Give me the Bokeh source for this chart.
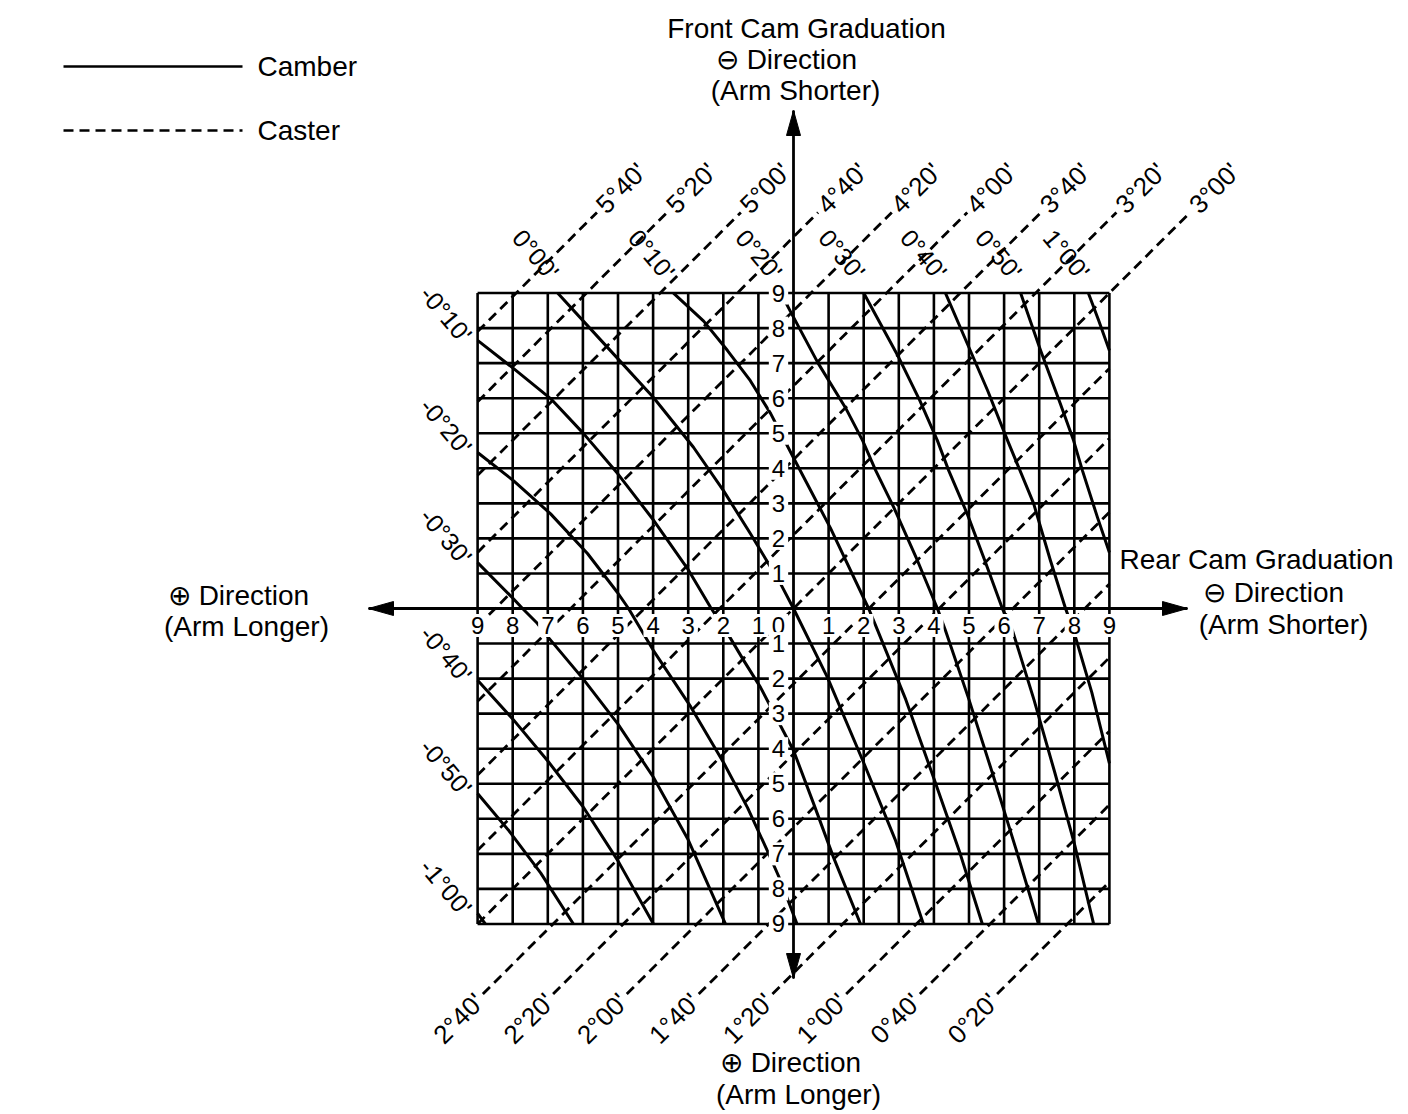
import math
from bokeh.plotting import figure
from bokeh.models import Range1d, Label
from bokeh.embed import file_html
from bokeh.resources import INLINE
from bokeh.core.properties import value

# ---------------- data ----------------
# cam graduations (rear cam on x, front cam on y); left/bottom = "plus" direction
grad_left = [9, 8, 7, 6, 5, 4, 3, 2, 1]
grad_right = [1, 2, 3, 4, 5, 6, 7, 8, 9]
grad_top = [9, 8, 7, 6, 5, 4, 3, 2, 1]
grad_bottom = [1, 2, 3, 4, 5, 6, 7, 8, 9]

# caster iso-lines: y = x + offset (graduation units)
caster_labels = ["5°40'", "5°20'", "5°00'", "4°40'", "4°20'", "4°00'", "3°40'", "3°20'", "3°00'",
                 "2°40'", "2°20'", "2°00'", "1°40'", "1°20'", "1°00'", "0°40'", "0°20'"]
caster_offset = [16.9, 14.9, 12.8, 10.6, 8.5, 6.35, 4.25, 2.1, 0.0,
                 -2.15, -4.15, -6.25, -8.3, -10.4, -12.5, -14.6, -16.8]

# camber iso-curves, traced points (graduation units)
camber_labels = ["-1°00'", "-0°50'", "-0°40'", "-0°30'", "-0°20'", "-0°10'",
                 "0°00'", "0°10'", "0°20'", "0°30'", "0°40'", "0°50'", "1°00'"]
camber_x = [
    [-9.0, -8.78],
    [-9.0, -8.1, -7.2, -6.27],
    [-9.0, -8.0, -7.0, -6.0, -5.0, -3.99],
    [-9.0, -8.0, -7.72, -7.3, -6.98, -6.0, -5.0, -4.0, -3.0, -1.94],
    [-9.0, -7.98, -6.92, -5.87, -5.01, -4.7, -3.99, -2.93, -1.99, -1.31, -0.71, -0.37, 0.1],
    [-9.0, -7.98, -6.92, -5.98, -5.01, -3.98, -3.02, -2.36, -1.88, -1.42, -0.94, 0.0, 0.57, 1.14, 1.91],
    [-6.72, -5.3, -3.99, -2.85, -2.0, -1.23, -0.37, 0.0, 0.97, 2.0, 2.9, 3.7],
    [-3.42, -2.56, -1.88, -1.23, -0.65, 0.0, 1.05, 2.14, 2.4, 3.2, 4.0, 4.75, 5.38],
    [-0.36, -0.1, 0.7, 1.48, 1.97, 2.34, 2.85, 3.53, 4.1, 4.33, 5.0, 5.7, 6.35, 6.98],
    [2.0, 3.0, 3.6, 4.1, 4.42, 4.95, 5.45, 5.95, 6.24, 6.85, 7.45, 8.0, 8.55],
    [4.33, 4.95, 5.53, 6.1, 6.84, 7.32, 7.75, 7.98, 8.5, 9.0],
    [6.47, 7.04, 7.6, 7.98, 8.23, 8.66, 9.0],
    [8.4, 8.7, 9.0],
]
camber_y = [
    [-8.7, -9.0],
    [-5.28, -6.35, -7.55, -9.0],
    [-2.05, -3.15, -4.35, -5.65, -7.2, -9.0],
    [1.31, 0.3, 0.0, -0.42, -0.83, -2.0, -3.3, -4.8, -6.6, -9.0],
    [4.45, 3.65, 2.7, 1.57, 0.45, 0.0, -1.2, -2.8, -4.4, -5.68, -6.99, -7.76, -9.0],
    [7.65, 6.85, 5.99, 4.99, 3.85, 2.51, 1.14, 0.03, -0.71, -1.48, -2.25, -4.05, -5.56, -7.1, -9.0],
    [9.0, 7.45, 6.02, 4.6, 3.37, 2.14, 0.71, 0.0, -1.97, -4.4, -6.6, -9.0],
    [9.0, 8.2, 7.36, 6.5, 5.56, 4.3, 2.3, 0.0, -0.63, -2.6, -4.85, -7.0, -9.0],
    [9.0, 8.5, 7.0, 5.73, 4.79, 3.94, 2.9, 1.37, 0.0, -0.63, -2.6, -4.8, -6.9, -9.0],
    [9.0, 7.16, 5.93, 4.79, 3.94, 2.7, 1.37, 0.0, -0.63, -2.6, -4.7, -6.7, -9.0],
    [9.0, 7.56, 6.22, 4.79, 3.0, 1.37, 0.0, -0.63, -2.4, -4.42],
    [9.0, 7.36, 5.85, 4.79, 3.94, 2.6, 1.6],
    [9.0, 8.2, 7.36],
]

# ---------------- layout helpers (picture pixels -> data units) ----------------
W, H = 1400, 1110
OX, OY, SX, SY = 793.0, 608.0, 35.1, 35.05


def xd(px):
    return (px - OX) / SX


def yd(py):
    return (OY - py) / SY


FONT = "Liberation Sans"
G = max(grad_right)

p = figure(width=W, height=H, x_range=Range1d(xd(0), xd(W)), y_range=Range1d(yd(H), yd(0)),
           output_backend="svg", toolbar_location=None, x_axis_type=None, y_axis_type=None,
           min_border=0, outline_line_color=None)
p.background_fill_color = "white"
p.border_fill_color = "white"

# ---------------- grid ----------------
vx = [-g for g in grad_left] + grad_right
hy = grad_top + [-g for g in grad_bottom]
p.segment(x0=vx, y0=[-G] * len(vx), x1=vx, y1=[G] * len(vx), line_color="black", line_width=2.6)
p.segment(x0=[-G] * len(hy), y0=hy, x1=[G] * len(hy), y1=hy, line_color="black", line_width=2.6)

# ---------------- camber curves ----------------
p.multi_line(xs=camber_x, ys=camber_y, line_color="black", line_width=3.0, line_join="round")

# ---------------- caster lines ----------------
TOP_EXT, BOT_EXT = 11.3, -11.0
cxs, cys = [], []
top_lab = dict(x=[], y=[], t=[])
bot_lab = dict(x=[], y=[], t=[])
for lab, c in zip(caster_labels, caster_offset):
    x_lo = max(-G, -G - c)
    x_hi = min(G, G - c)
    if c >= 0:
        x_hi = TOP_EXT - c
        top_lab["x"].append(x_hi + 0.1)
        top_lab["y"].append(x_hi + c + 0.1)
        top_lab["t"].append(lab)
    else:
        x_lo = BOT_EXT - c
        bot_lab["x"].append(x_lo - 0.1)
        bot_lab["y"].append(x_lo + c - 0.1)
        bot_lab["t"].append(lab)
    cxs.append([x_lo, x_hi])
    cys.append([x_lo + c, x_hi + c])
p.multi_line(xs=cxs, ys=cys, line_color="black", line_width=2.8, line_dash="10 6")

p.text(x=top_lab["x"], y=top_lab["y"], text=top_lab["t"], angle=math.pi / 4,
       text_align="left", text_baseline="middle", text_font=value(FONT), text_font_size="26px",
       text_color="black")
p.text(x=bot_lab["x"], y=bot_lab["y"], text=bot_lab["t"], angle=math.pi / 4,
       text_align="right", text_baseline="middle", text_font=value(FONT), text_font_size="26px",
       text_color="black")

# ---------------- camber labels ----------------
lx, ly, lt = [], [], []
for lab, xs, ys in zip(camber_labels, camber_x, camber_y):
    if lab.startswith("-"):
        lx.append(-G - 0.9)
        ly.append(ys[0] + 0.75)
    else:
        lx.append(xs[0] - 0.62)
        ly.append(G + 1.1)
    lt.append(lab)
p.text(x=lx, y=ly, text=lt, angle=-50 * math.pi / 180, text_align="center", text_baseline="middle",
       text_font=value(FONT), text_font_size="25px", text_color="black")

# ---------------- axes with arrows ----------------
ax_l, ax_r, ax_t, ax_b = xd(368), xd(1187), yd(110), yd(978)
p.segment(x0=[ax_l, 0], y0=[0, ax_b], x1=[ax_r, 0], y1=[0, ax_t], line_color="black", line_width=2.8)
AL, AW = 25 / SX, 7 / SY
ALy, AWx = 25 / SY, 7 / SX
p.patches(xs=[[ax_l, ax_l + AL, ax_l + AL], [ax_r, ax_r - AL, ax_r - AL],
              [0, -AWx, AWx], [0, -AWx, AWx]],
          ys=[[0, AW, -AW], [0, AW, -AW], [ax_t, ax_t - ALy, ax_t - ALy], [ax_b, ax_b + ALy, ax_b + ALy]],
          fill_color="black", line_color="black")

# ---------------- graduation numbers ----------------
col_x = xd(778)
row_y = yd(625)
nx = [-g for g in grad_left] + [col_x] + grad_right
ny = [row_y] * len(nx)
nt = [str(g) for g in grad_left] + ["0"] + [str(g) for g in grad_right]
nx += [col_x] * (len(grad_top) + len(grad_bottom))
ny += grad_top + [-g for g in grad_bottom]
nt += [str(g) for g in grad_top] + [str(g) for g in grad_bottom]
p.text(x=nx, y=ny, text=nt, text_align="center", text_baseline="middle", text_font=value(FONT),
       text_font_size="24px", text_color="black", background_fill_color="white", padding=3)

# ---------------- titles ----------------
titles = [
    ("Front Cam Graduation", 806, 28), ("⊖ Direction", 786, 59), ("(Arm Shorter)", 795, 90),
    ("Rear Cam Graduation", 1256, 559), ("⊖ Direction", 1273, 592), ("(Arm Shorter)", 1283, 624),
    ("⊕ Direction", 238, 595), ("(Arm Longer)", 246, 626),
    ("⊕ Direction", 790, 1062), ("(Arm Longer)", 798, 1094),
]
for t, px, py in titles:
    p.add_layout(Label(x=xd(px), y=yd(py), text=t, text_align="center", text_baseline="middle",
                       text_font=FONT, text_font_size="28px", text_color="black"))

# ---------------- legend ----------------
p.line([xd(63), xd(242)], [yd(66), yd(66)], line_color="black", line_width=2.6)
p.line([xd(63), xd(242)], [yd(130), yd(130)], line_color="black", line_width=2.6, line_dash="10 6")
for t, py in (("Camber", 66), ("Caster", 130)):
    p.add_layout(Label(x=xd(257), y=yd(py), text=t, text_align="left", text_baseline="middle",
                       text_font=FONT, text_font_size="28px", text_color="black"))

open("out.html", "w").write(file_html(p, INLINE))
